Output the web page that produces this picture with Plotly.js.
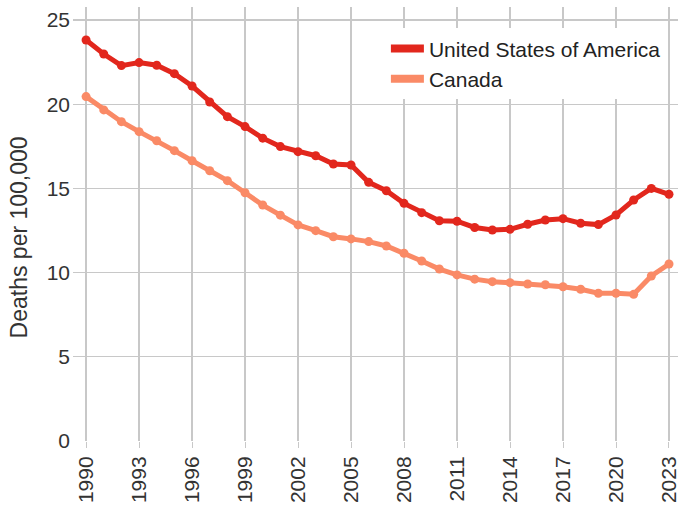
<!DOCTYPE html>
<html>
<head>
<meta charset="utf-8">
<script src="https://cdn.plot.ly/plotly-3.0.1.min.js"></script>
<style>html,body{margin:0;padding:0;background:#fff}#chart{width:678px;height:508px}</style>
</head>
<body>
<div id="chart"></div>
<script>
var years = [1990,1991,1992,1993,1994,1995,1996,1997,1998,1999,2000,2001,2002,2003,2004,2005,2006,2007,2008,2009,2010,2011,2012,2013,2014,2015,2016,2017,2018,2019,2020,2021,2022,2023];
var usa = [23.81,22.98,22.29,22.47,22.31,21.81,21.08,20.13,19.26,18.67,17.98,17.48,17.18,16.94,16.45,16.39,15.36,14.86,14.11,13.56,13.08,13.05,12.68,12.53,12.57,12.87,13.12,13.20,12.93,12.85,13.42,14.31,15.00,14.65];
var canada = [20.45,19.66,18.96,18.37,17.83,17.24,16.64,16.05,15.46,14.74,14.01,13.41,12.83,12.49,12.13,12.00,11.84,11.58,11.15,10.69,10.21,9.86,9.61,9.46,9.40,9.32,9.28,9.16,9.01,8.77,8.77,8.71,9.80,10.51];
var seriesNames = ["United States of America", "Canada"];
var xTicks = [1990,1993,1996,1999,2002,2005,2008,2011,2014,2017,2020,2023];
var yTicks = [0,5,10,15,20,25];
var yTitle = "Deaths per 100,000";

var cUSA = "#e2271d", cCAN = "#fa8a66";
var traces = [
  {x: years, y: usa, mode: "lines+markers", name: seriesNames[0], showlegend: false,
   line: {color: cUSA, width: 5}, marker: {color: cUSA, size: 9}},
  {x: years, y: canada, mode: "lines+markers", name: seriesNames[1], showlegend: false,
   line: {color: cCAN, width: 5}, marker: {color: cCAN, size: 9}},
  {x: [null], y: [null], mode: "lines", name: seriesNames[0], line: {color: cUSA, width: 8}},
  {x: [null], y: [null], mode: "lines", name: seriesNames[1], line: {color: cCAN, width: 8}}
];
var font = {family: "Liberation Sans, Arial, sans-serif", color: "#333", size: 21};
var layout = {
  width: 678, height: 508,
  margin: {l: 73, r: 0, t: 7, b: 67},
  paper_bgcolor: "#fff", plot_bgcolor: "#fff",
  font: font,
  showlegend: true,
  legend: {x: 0.98, xanchor: "right", y: 0.951, yanchor: "top", bgcolor: "#fff",
           font: {family: font.family, size: 21, color: "#222"}, itemwidth: 33, tracegroupgap: 0},
  xaxis: {range: [1989.26, 2023.51], tickvals: xTicks, ticktext: xTicks.map(String),
          tickangle: -90, showgrid: true, gridcolor: "#c8c8c8", gridwidth: 1.2,
          ticks: "outside", ticklen: 6, tickcolor: "#c8c8c8", zeroline: false,
          ticklabeloverflow: "allow",
          showline: false, tickfont: {size: 21, color: "#333"}},
  yaxis: {range: [0, 25.77], tickvals: yTicks, showgrid: true, gridcolor: "#c8c8c8", gridwidth: 1.2,
          zeroline: false, showline: false, ticks: "", ticklabelstandoff: 2,
          tickfont: {size: 21, color: "#333"}},
  annotations: [{text: yTitle, textangle: -90, xref: "paper", yref: "paper",
                 x: -0.0893, y: 0.469, xanchor: "center", yanchor: "middle", showarrow: false,
                 font: {size: 23, color: "#333", family: font.family}}]
};
Plotly.newPlot("chart", traces, layout, {displayModeBar: false, staticPlot: true});
</script>
</body>
</html>
